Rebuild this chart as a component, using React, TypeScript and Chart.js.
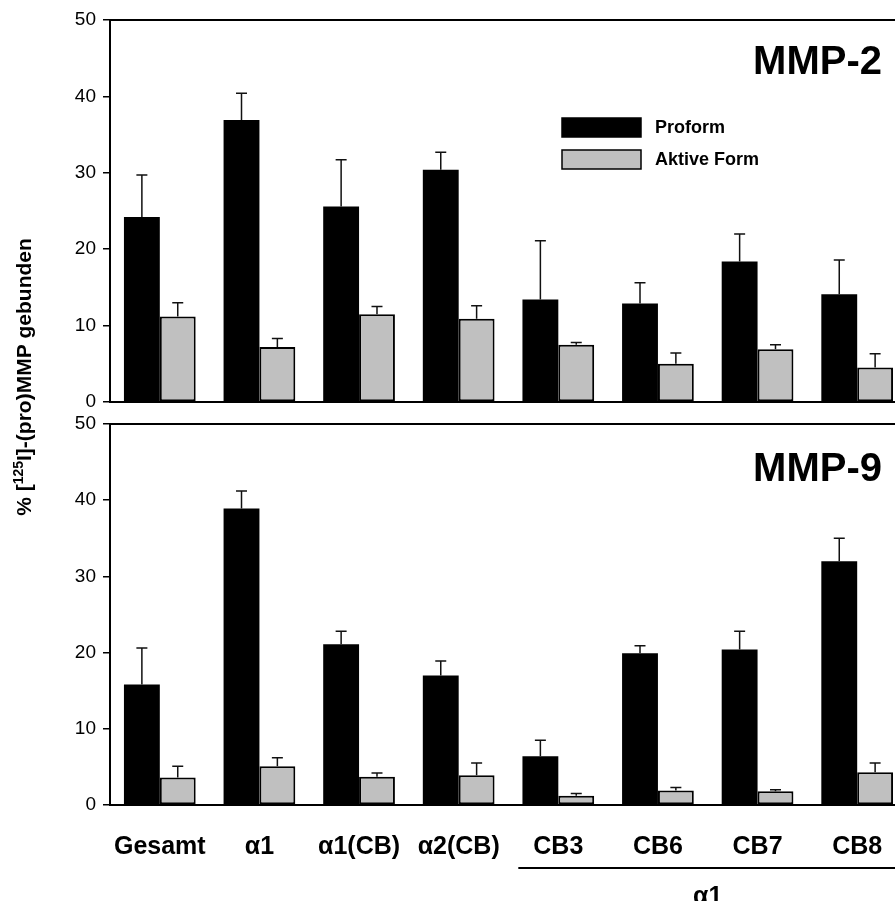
import React, { useEffect, useRef } from "react";
import { Chart, registerables } from "chart.js";

Chart.register(...registerables);

// ---------- data ----------
const categories = ["Gesamt", "α1", "α1(CB)", "α2(CB)", "CB3", "CB6", "CB7", "CB8"];
const seriesNames = ["Proform", "Aktive Form"];
const panelTitles = ["MMP-2", "MMP-9"];
const groupLabel = "α1";
const yTitleParts = ["% [", "125", "I]-(pro)MMP gebunden"];
const yMin = 0;
const yMax = 50;
const yStep = 10;

const mmp2Proform = [24.2, 36.9, 25.6, 30.4, 13.4, 12.9, 18.4, 14.1];
const mmp2ProformErr = [5.5, 3.5, 6.1, 2.3, 7.7, 2.7, 3.6, 4.5];
const mmp2Aktiv = [11.2, 7.2, 11.5, 10.9, 7.5, 5.0, 6.9, 4.5];
const mmp2AktivErr = [1.8, 1.1, 1.0, 1.7, 0.3, 1.4, 0.6, 1.8];

const mmp9Proform = [15.8, 38.9, 21.1, 17.0, 6.4, 19.9, 20.4, 32.0];
const mmp9ProformErr = [4.8, 2.3, 1.7, 1.9, 2.1, 1.0, 2.4, 3.0];
const mmp9Aktiv = [3.6, 5.1, 3.7, 3.9, 1.2, 1.9, 1.8, 4.3];
const mmp9AktivErr = [1.5, 1.1, 0.5, 1.6, 0.3, 0.4, 0.2, 1.2];

// ---------- style ----------
const W = 912;
const H = 901;
const FONT = "'Liberation Sans', Arial, Helvetica, sans-serif";
const BLACK = "#000000";
const GREY = "#c0c0c0";

const errorBarPlugin = {
  id: "errorBars",
  afterDatasetsDraw(chart: any) {
    const ctx = chart.ctx;
    const yScale = chart.scales.y;
    ctx.save();
    ctx.strokeStyle = "#111";
    ctx.lineWidth = 1.5;
    chart.data.datasets.forEach((ds: any, i: number) => {
      const meta = chart.getDatasetMeta(i);
      meta.data.forEach((bar: any, j: number) => {
        const v = ds.data[j];
        const e = ds.errors[j];
        const x = bar.x;
        const y0 = bar.y;
        const y1 = yScale.getPixelForValue(v + e);
        ctx.beginPath();
        ctx.moveTo(x, y0);
        ctx.lineTo(x, y1);
        ctx.moveTo(x - 5.5, y1);
        ctx.lineTo(x + 5.5, y1);
        ctx.stroke();
      });
    });
    ctx.restore();
  },
};

const frameAndTextPlugin = (isBottom: boolean) => ({
  id: "frameText" + (isBottom ? "B" : "T"),
  afterDraw(chart: any) {
    const ctx = chart.ctx;
    const ca = chart.chartArea;
    const xs = chart.scales.x;
    ctx.save();
    // top / right frame
    ctx.strokeStyle = BLACK;
    ctx.lineWidth = 2;
    ctx.beginPath();
    ctx.moveTo(ca.left - 1, ca.top);
    ctx.lineTo(ca.right, ca.top);
    ctx.lineTo(ca.right, ca.bottom);
    ctx.stroke();

    // panel title
    ctx.fillStyle = BLACK;
    ctx.font = `bold 40px ${FONT}`;
    ctx.textAlign = "right";
    ctx.textBaseline = "alphabetic";
    ctx.fillText(panelTitles[isBottom ? 1 : 0], 882, ca.top + (isBottom ? 57 : 54));

    if (!isBottom) {
      // legend
      const lx = 562;
      const boxes = [
        { y: 118, fill: BLACK },
        { y: 150, fill: GREY },
      ];
      ctx.font = `bold 18px ${FONT}`;
      ctx.textAlign = "left";
      ctx.textBaseline = "middle";
      boxes.forEach((b, i) => {
        ctx.fillStyle = b.fill;
        ctx.fillRect(lx, b.y, 79, 19);
        ctx.strokeStyle = BLACK;
        ctx.lineWidth = 1.5;
        ctx.strokeRect(lx, b.y, 79, 19);
        ctx.fillStyle = BLACK;
        ctx.fillText(seriesNames[i], 655, b.y + 10);
      });
    } else {
      // bracket under CB labels
      const x4 = xs.getPixelForValue(4);
      const x7 = xs.getPixelForValue(7);
      ctx.strokeStyle = BLACK;
      ctx.lineWidth = 2;
      ctx.beginPath();
      ctx.moveTo(x4 - 40, 868);
      ctx.lineTo(W, 868);
      ctx.stroke();
      ctx.fillStyle = BLACK;
      ctx.font = `bold 25px ${FONT}`;
      ctx.textAlign = "center";
      ctx.textBaseline = "alphabetic";
      ctx.fillText(groupLabel, (x4 + x7) / 2, 904);

      // y axis title (rotated, with superscript)
      const big = `bold 21px ${FONT}`;
      const small = `bold 14px ${FONT}`;
      ctx.font = big;
      const w0 = ctx.measureText(yTitleParts[0]).width;
      const w2 = ctx.measureText(yTitleParts[2]).width;
      ctx.font = small;
      const w1 = ctx.measureText(yTitleParts[1]).width;
      const total = w0 + w1 + w2;
      ctx.translate(31, 377);
      ctx.rotate(-Math.PI / 2);
      ctx.textAlign = "left";
      ctx.textBaseline = "alphabetic";
      let cx = -total / 2;
      ctx.font = big;
      ctx.fillText(yTitleParts[0], cx, 0);
      cx += w0;
      ctx.font = small;
      ctx.fillText(yTitleParts[1], cx, -8);
      cx += w1;
      ctx.font = big;
      ctx.fillText(yTitleParts[2], cx, 0);
    }
    ctx.restore();
  },
});

function makeChart(canvas: HTMLCanvasElement, isBottom: boolean) {
  const proform = isBottom ? mmp9Proform : mmp2Proform;
  const proformErr = isBottom ? mmp9ProformErr : mmp2ProformErr;
  const aktiv = isBottom ? mmp9Aktiv : mmp2Aktiv;
  const aktivErr = isBottom ? mmp9AktivErr : mmp2AktivErr;
  const chartRight = 907;
  return new Chart(canvas, {
    type: "bar",
    data: {
      labels: categories,
      datasets: [
        {
          label: seriesNames[0],
          data: proform,
          backgroundColor: BLACK,
          borderWidth: 0,
          errors: proformErr,
        } as any,
        {
          label: seriesNames[1],
          data: aktiv,
          backgroundColor: GREY,
          borderColor: BLACK,
          borderWidth: 2,
          borderSkipped: false,
          errors: aktivErr,
        } as any,
      ],
    },
    options: {
      responsive: false,
      animation: false,
      events: [],
      layout: {
        padding: isBottom
          ? { top: 424, bottom: 0, left: 0, right: W - chartRight }
          : { top: 20, bottom: H - 402, left: 0, right: W - chartRight },
      },
      datasets: {
        bar: { categoryPercentage: 0.72, barPercentage: 1 },
      },
      plugins: {
        legend: { display: false },
        tooltip: { enabled: false },
        title: { display: false },
      },
      scales: {
        x: {
          type: "category",
          offset: true,
          grid: { display: false, drawTicks: false },
          border: { display: true, color: BLACK, width: 2 },
          ticks: isBottom
            ? {
                display: true,
                color: BLACK,
                autoSkip: false,
                maxRotation: 0,
                padding: 27,
                font: { family: FONT, size: 25, weight: "bold" },
              }
            : { display: false },
          afterFit: (s: any) => {
            s.height = isBottom ? 96 : 0;
          },
        } as any,
        y: {
          min: yMin,
          max: yMax,
          afterFit: (s: any) => {
            s.width = 110;
          },
          ticks: {
            stepSize: yStep,
            color: BLACK,
            padding: 7,
            font: { family: FONT, size: 19 },
          },
          grid: {
            drawOnChartArea: false,
            drawTicks: true,
            tickLength: 7,
            color: BLACK,
            lineWidth: 1.5,
          },
          border: { display: true, color: BLACK, width: 2 },
        } as any,
      },
    },
    plugins: [errorBarPlugin, frameAndTextPlugin(isBottom)],
  } as any);
}

export default function App() {
  const topRef = useRef<HTMLCanvasElement>(null);
  const botRef = useRef<HTMLCanvasElement>(null);

  useEffect(() => {
    document.body.style.margin = "0";
    const c1 = makeChart(topRef.current!, false);
    const c2 = makeChart(botRef.current!, true);
    return () => {
      c1.destroy();
      c2.destroy();
    };
  }, []);

  const canvasStyle: React.CSSProperties = {
    position: "absolute",
    left: 0,
    top: 0,
    width: W,
    height: H,
  };

  return (
    <div
      style={{
        position: "fixed",
        left: 0,
        top: 0,
        width: 895,
        height: 901,
        overflow: "hidden",
        background: "#ffffff",
      }}
    >
      <canvas ref={topRef} width={W} height={H} style={canvasStyle} />
      <canvas ref={botRef} width={W} height={H} style={canvasStyle} />
    </div>
  );
}
